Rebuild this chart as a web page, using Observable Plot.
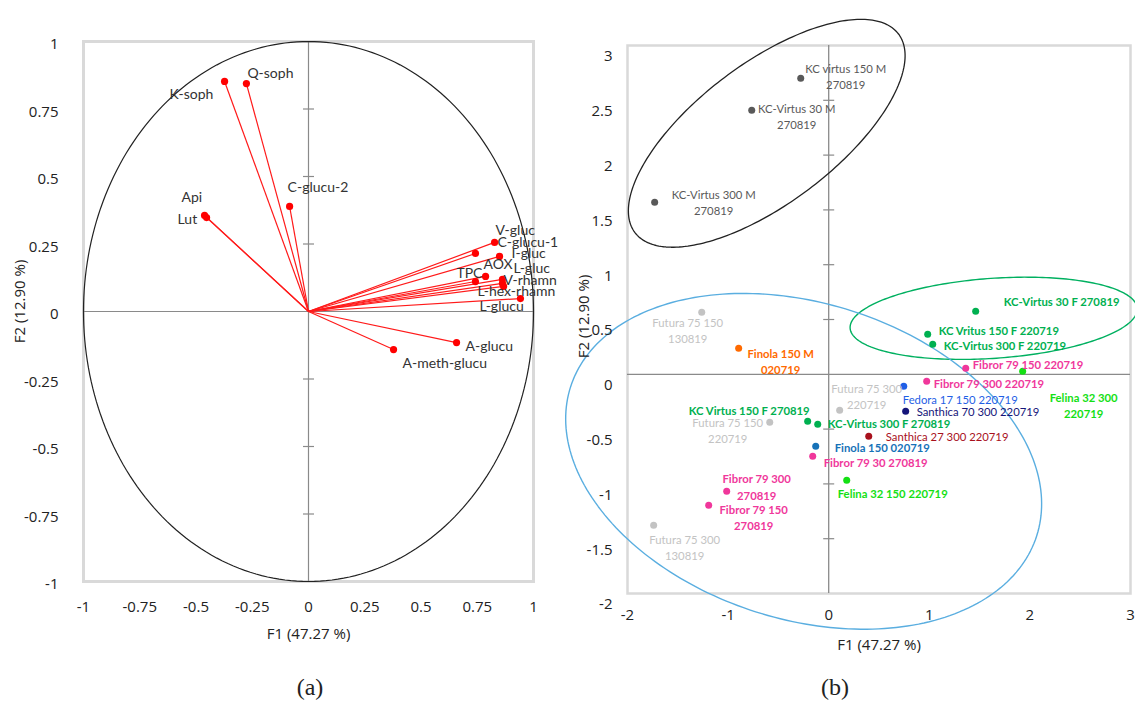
<!DOCTYPE html>
<html><head><meta charset="utf-8">
<script src="https://cdn.jsdelivr.net/npm/d3@7"></script>
<script src="https://cdn.jsdelivr.net/npm/@observablehq/plot@0.6"></script>
<style>
body{margin:0;background:#fff;}
#wrap{position:relative;width:1135px;height:702px;overflow:hidden;background:#fff;}
#pa,#pb{position:absolute;top:0;}
#pa{left:0;} #pb{left:567px;}
.cap{position:absolute;width:60px;text-align:center;font-family:"Liberation Serif";font-size:24px;color:#222;top:674px;}
</style></head><body>
<div id="wrap"><div id="pa"></div><div id="pb"></div>
<div class="cap" style="left:280px">(a)</div>
<div class="cap" style="left:805px">(b)</div>
</div>
<script>
// ---------- Panel (a): variable loadings ----------
const varNames = ["K-soph","Q-soph","C-glucu-2","Api","Lut","V-gluc","C-glucu-1","I-gluc","AOX","TPC","L-gluc","V-rhamn","L-hex-rhamn","L-glucu","A-glucu","A-meth-glucu"];
const varF1 = [-0.373,-0.276,-0.084,-0.462,-0.453,0.827,0.742,0.849,0.787,0.742,0.862,0.862,0.867,0.942,0.658,0.378];
const varF2 = [0.852,0.844,0.389,0.356,0.348,0.256,0.215,0.204,0.130,0.111,0.119,0.104,0.093,0.048,-0.115,-0.141];
const aTicks = [-1,-0.75,-0.5,-0.25,0,0.25,0.5,0.75,1];

// ---------- Panel (b): observations ----------
const obsNames = [
 "KC virtus 150 M\n270819","KC-Virtus 30 M\n270819","KC-Virtus 300 M\n270819",
 "Futura 75 150\n130819","Finola 150 M\n020719","Futura 75 300\n220719",
 "KC Virtus 150 F 270819","KC-Virtus 300 F 270819","Futura 75 150\n220719",
 "Santhica 27 300 220719","Finola 150 020719","Fibror 79 30 270819",
 "KC-Virtus 30 F 270819","KC Vritus 150 F 220719","KC-Virtus 300 F 220719",
 "Fibror 79 150 220719","Felina 32 300\n220719","Fibror 79 300 220719",
 "Fedora 17 150 220719","Santhica 70 300 220719","Felina 32 150 220719",
 "Fibror 79 300\n270819","Fibror 79 150\n270819","Futura 75 300\n130819"];
const obsF1 = [-0.278,-0.765,-1.730,-1.262,-0.895,0.109,-0.209,-0.109,-0.586,0.398,-0.129,-0.159,1.461,0.984,1.034,1.362,1.928,0.974,0.746,0.765,0.179,-1.014,-1.193,-1.740];
const obsF2 = [2.701,2.409,1.569,0.566,0.237,-0.328,-0.429,-0.456,-0.438,-0.566,-0.657,-0.748,0.575,0.365,0.274,0.055,0.027,-0.064,-0.109,-0.338,-0.967,-1.068,-1.195,-1.378];
const obsGroup = ["KC M","KC M","KC M","Futura","Finola M","Futura","KC F","KC F","Futura","Santhica 27","Finola","Fibror","KC F","KC F","KC F","Fibror","Felina","Fibror","Fedora","Santhica 70","Felina","Fibror","Fibror","Futura"];
const bTicksY = [-2,-1.5,-1,-0.5,0,0.5,1,1.5,2,2.5,3];
const bTicksX = [-2,-1,0,1,2,3];

// ---------- layout / style (not data) ----------
const groupNames  = ["KC M","Futura","Finola M","KC F","Santhica 27","Finola","Fibror","Felina","Fedora","Santhica 70"];
const groupColors = ["#595959","#c3c3c3","#ff6a00","#00b050","#a8101c","#1672b8","#f0379b","#14e014","#1f5fe6","#15157a"];
const groupBold   = {"KC M":400,"Futura":400,"Finola M":700,"KC F":700,"Santhica 27":400,"Finola":700,"Fibror":700,"Felina":700,"Fedora":400,"Santhica 70":400};
// label offsets in px: [dx, dy, anchor]
const varLab = [[-55,13,"start"],[1,-10,"start"],[-2,-19,"start"],[-23,-18,"start"],[-29,2,"start"],[1,-12,"start"],[22,-11,"start"],[12,-3,"start"],[-2,-12,"start"],[-19,-8,"start"],[11,-11,"start"],[1,-3,"start"],[-26,5,"start"],[-41,8,"start"],[9,4,"start"],[9,14,"start"]];
const obsLab = [[45,-2,"middle"],[45,6,"middle"],[59,0,"middle"],[-14,18,"middle"],[42,13,"middle"],[27,-14,"middle"],[2,-11,"end"],[10,-1,"start"],[-42,8,"middle"],[17,0,"start"],[19,1,"start"],[11,6,"start"],[28,-10,"start"],[11,-4,"start"],[11,1,"start"],[7,-4,"start"],[61,34,"middle"],[7,2,"start"],[-1,13,"start"],[11,0,"start"],[-9,13,"start"],[30,-5,"middle"],[45,12,"middle"],[31,22,"middle"]];

function ellipse(c, a, b, n = 240) {
  return d3.range(n + 1).map(i => {
    const t = 2 * Math.PI * i / n;
    return {x: c[0] + a[0]*Math.cos(t) + b[0]*Math.sin(t), y: c[1] + a[1]*Math.cos(t) + b[1]*Math.sin(t)};
  });
}
const hTick = {draw(ctx, size) { const r = Math.sqrt(size / Math.PI); ctx.moveTo(-r, 0); ctx.lineTo(r, 0); }};
const fmt = d => String(d);

// ---------- Panel (a) ----------
const vars = varNames.map((n, i) => ({name: n, f1: varF1[i], f2: varF2[i], i}));
const varLabels = vars.map(v => Plot.text([v], {
  x: "f1", y: "f2", text: "name", dx: varLab[v.i][0], dy: varLab[v.i][1], textAnchor: varLab[v.i][2],
  lineAnchor: "middle", fill: "#333", fontFamily: "Lato", fontSize: 14
}));
const plotA = Plot.plot({
  width: 567, height: 640,
  marginLeft: 83, marginRight: 34, marginTop: 41, marginBottom: 59,
  x: {domain: [-1, 1], axis: null},
  y: {domain: [-1, 1], axis: null},
  style: {fontFamily: "Open Sans", fontSize: "15px", color: "#222", background: "transparent", overflow: "visible"},
  marks: [
    Plot.frame({stroke: "#d9d9d9", strokeWidth: 3}),
    Plot.ruleX([0], {stroke: "#8a8a8a", strokeWidth: 1.2}),
    Plot.ruleY([0], {stroke: "#8a8a8a", strokeWidth: 1.2}),
    Plot.dot(aTicks.filter(d => d !== 0 && Math.abs(d) !== 1), {x: () => 0, y: d => d, symbol: hTick, r: 5.5, stroke: "#8a8a8a", strokeWidth: 1.2}),
    Plot.line(ellipse([0, 0], [1, 0], [0, 1]), {x: "x", y: "y", stroke: "#222", strokeWidth: 1.2}),
    Plot.link(vars, {x1: () => 0, y1: () => 0, x2: "f1", y2: "f2", stroke: "#ff1a1a", strokeWidth: 1.2}),
    Plot.dot(vars, {x: "f1", y: "f2", r: 3.6, fill: "#ff0000"}),
    ...varLabels,
    Plot.text(aTicks, {y: d => d, text: fmt, frameAnchor: "left", textAnchor: "end", lineAnchor: "middle", dx: -25, dy: 3}),
    Plot.text(aTicks, {x: d => d, text: fmt, frameAnchor: "bottom", textAnchor: "middle", lineAnchor: "middle", dy: 26}),
    Plot.text(["F1 (47.27 %)"], {frameAnchor: "bottom", textAnchor: "middle", lineAnchor: "middle", dy: 53}),
    Plot.text(["F2 (12.90 %)"], {frameAnchor: "left", textAnchor: "middle", lineAnchor: "middle", rotate: -90, dx: -63, dy: -10})
  ]
});
document.getElementById("pa").appendChild(plotA);

// ---------- Panel (b) ----------
const obs = obsNames.map((n, i) => ({name: n, f1: obsF1[i], f2: obsF2[i], g: obsGroup[i], i}));
const obsLabels = obs.map(o => Plot.text([o], {
  x: "f1", y: "f2", text: "name", fill: "g", dx: obsLab[o.i][0], dy: obsLab[o.i][1], textAnchor: obsLab[o.i][2],
  lineAnchor: "middle", lineHeight: 1.42, fontFamily: "Lato", fontSize: 11.3, fontWeight: groupBold[o.g]
}));
const plotB = Plot.plot({
  width: 568, height: 660,
  marginLeft: 60, marginRight: 5, marginTop: 45, marginBottom: 67,
  x: {domain: [-2, 3], axis: null},
  y: {domain: [-2, 3], axis: null},
  color: {domain: groupNames, range: groupColors},
  style: {fontFamily: "Open Sans", fontSize: "15px", color: "#222", background: "transparent", overflow: "visible"},
  marks: [
    Plot.frame({stroke: "#d9d9d9", strokeWidth: 2.5}),
    Plot.ruleX([0], {stroke: "#8a8a8a", strokeWidth: 1.3}),
    Plot.ruleY([0], {stroke: "#8a8a8a", strokeWidth: 1.3}),
    Plot.dot(bTicksY.filter(d => d !== 0 && d !== -2 && d !== 3), {x: () => 0, y: d => d, symbol: hTick, r: 5.5, stroke: "#8a8a8a", strokeWidth: 1.2}),
    Plot.line(ellipse([-0.616, 2.199], [1.31, 0.906], [0.419, -0.510]), {x: "x", y: "y", stroke: "#222", strokeWidth: 1.3}),
    Plot.line(ellipse([1.64, 0.511], [1.427, 0.091], [0.028, -0.364]), {x: "x", y: "y", stroke: "#00b060", strokeWidth: 1.4}),
    Plot.line(ellipse([-0.249, -0.794], [2.317, -0.679], [-0.477, -1.373]), {x: "x", y: "y", stroke: "#5aaee0", strokeWidth: 1.4}),
    Plot.dot(obs, {x: "f1", y: "f2", r: 3.5, fill: "g"}),
    ...obsLabels,
    Plot.text(bTicksY, {y: d => d, text: fmt, frameAnchor: "left", textAnchor: "end", lineAnchor: "middle", dx: -15, dy: 11}),
    Plot.text(bTicksX, {x: d => d, text: fmt, frameAnchor: "bottom", textAnchor: "middle", lineAnchor: "middle", dy: 22}),
    Plot.text(["F1 (47.27 %)"], {frameAnchor: "bottom", textAnchor: "middle", lineAnchor: "middle", dy: 52}),
    Plot.text(["F2 (12.90 %)"], {frameAnchor: "left", textAnchor: "middle", lineAnchor: "middle", rotate: -90, dx: -43, dy: -3})
  ]
});
document.getElementById("pb").appendChild(plotB);
</script>
</body></html>
